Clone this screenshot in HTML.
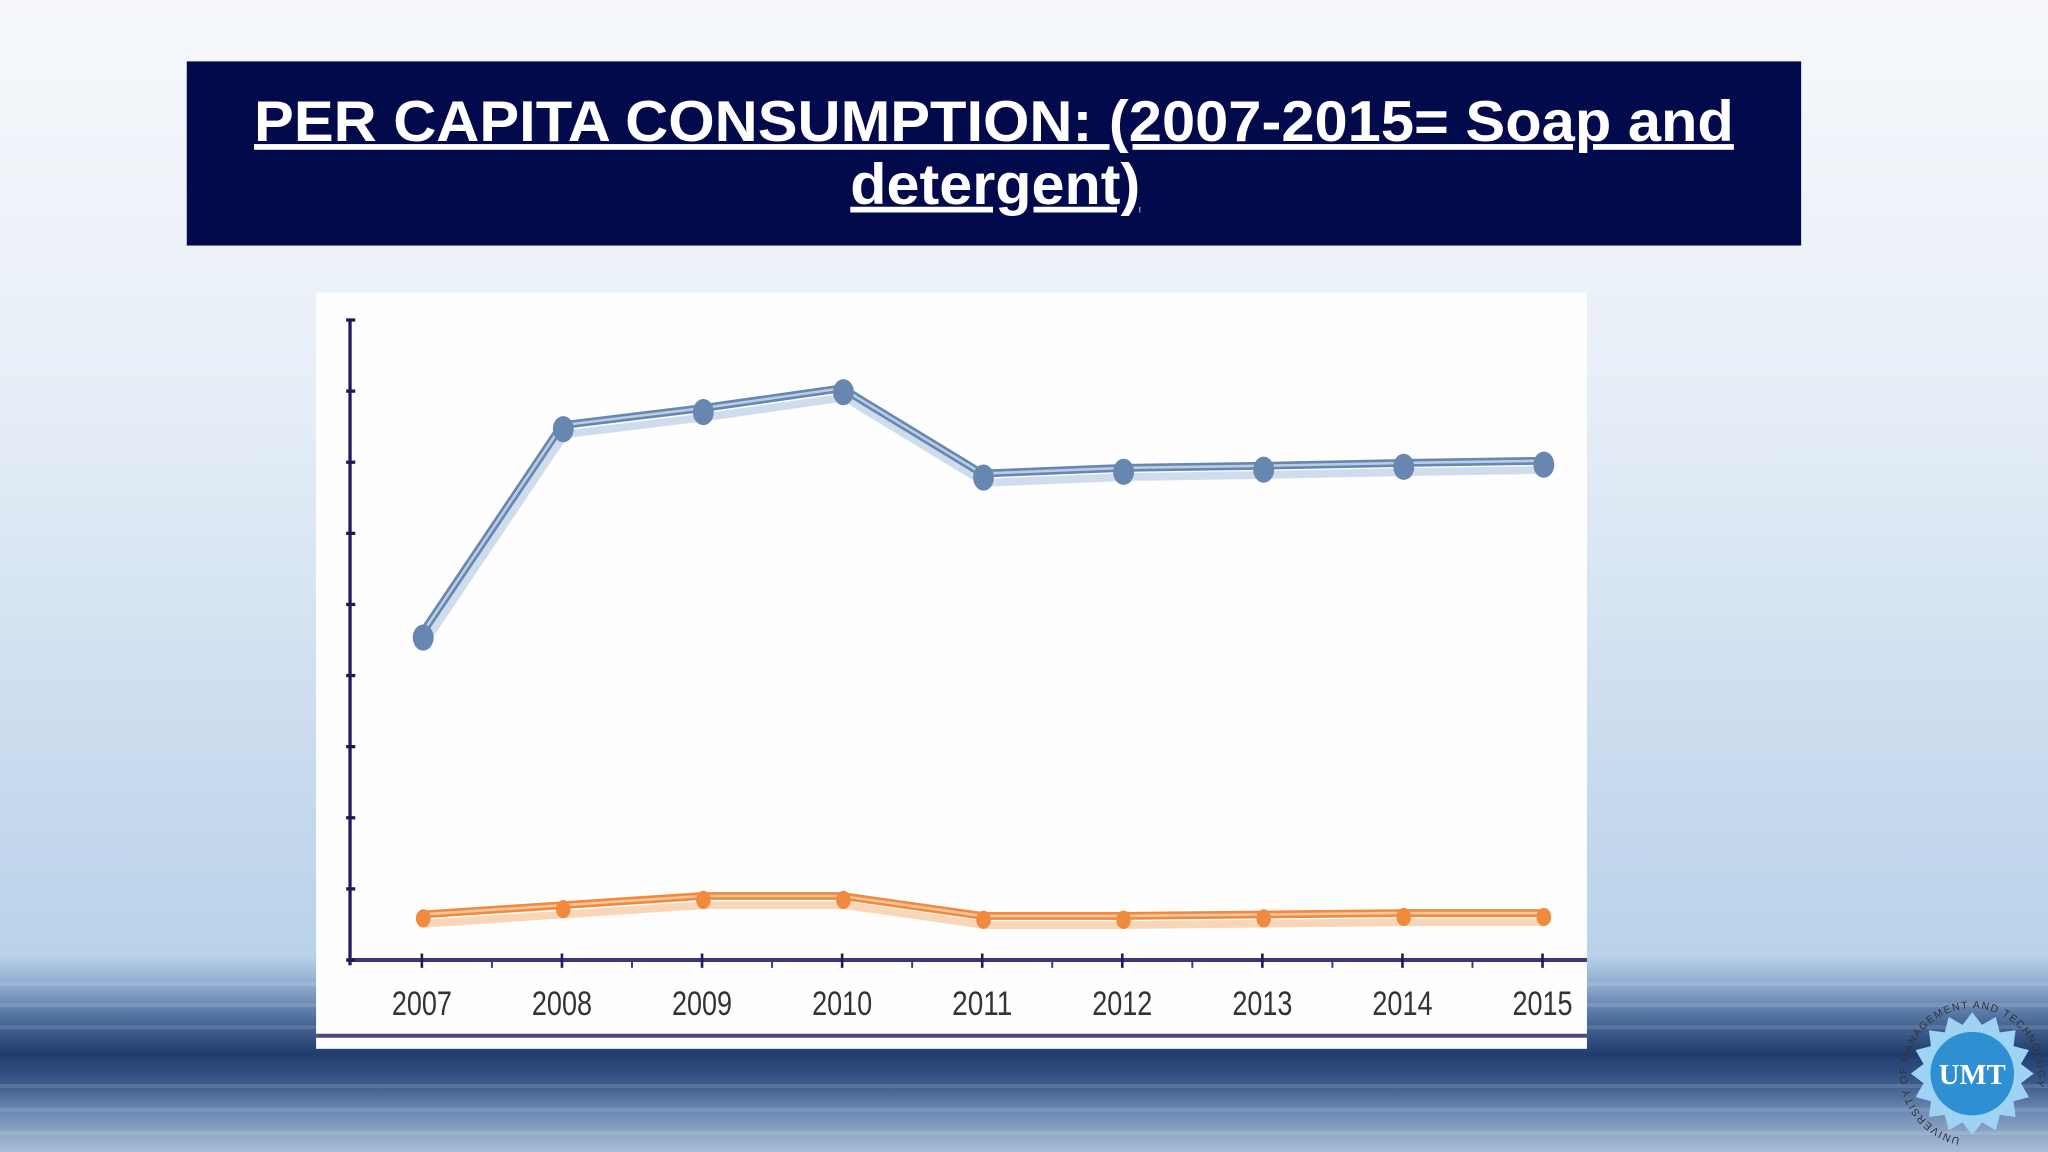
<!DOCTYPE html>
<html><head><meta charset="utf-8"><style>
html,body{margin:0;padding:0;width:2048px;height:1152px;overflow:hidden;background:#fff}
svg{display:block}
</style></head><body>
<svg width="2048" height="1152" viewBox="0 0 1568 882" preserveAspectRatio="none" xmlns="http://www.w3.org/2000/svg">
<defs>
<linearGradient id="bg" x1="0" y1="0" x2="0" y2="1">
<stop offset="0" stop-color="#f6f8fb"/>
<stop offset="0.35" stop-color="#e6eef7"/>
<stop offset="0.83" stop-color="#b9d1e9"/>
<stop offset="0.855" stop-color="#8fabcf"/>
<stop offset="0.885" stop-color="#4d6d9c"/>
<stop offset="0.915" stop-color="#1f3c6d"/>
<stop offset="0.94" stop-color="#3a5a8b"/>
<stop offset="0.965" stop-color="#6d8ab2"/>
<stop offset="1" stop-color="#a9bdd9"/>
</linearGradient>
<path id="ring" d="M1510,872 a50,50 0 1,1 0.1,0"/>
</defs>
<rect x="0" y="0" width="1568" height="882" fill="url(#bg)"/>
<g opacity="0.12">
<rect x="0" y="752" width="1568" height="3" fill="#fff"/>
<rect x="0" y="768" width="1568" height="3" fill="#fff"/>
<rect x="0" y="785" width="1568" height="3" fill="#fff"/>
<rect x="0" y="830" width="1568" height="3" fill="#fff"/>
<rect x="0" y="848" width="1568" height="3" fill="#fff"/>
<rect x="0" y="866" width="1568" height="3" fill="#fff"/>
</g>
<rect x="143" y="47" width="1236" height="141" fill="#030a4b"/>
<text x="761" y="108" text-anchor="middle" font-family="Liberation Sans, sans-serif" font-weight="bold" font-size="44" fill="#fff" text-decoration="underline" textLength="1133" lengthAdjust="spacingAndGlyphs">PER CAPITA CONSUMPTION: (2007-2015= Soap and</text>
<text x="762" y="156" text-anchor="middle" font-family="Liberation Sans, sans-serif" font-weight="bold" font-size="44" fill="#fff" text-decoration="underline" textLength="222" lengthAdjust="spacingAndGlyphs">detergent)</text>
<rect x="242" y="224" width="973" height="579" fill="#fefefe"/>
<line x1="242" y1="793" x2="1215" y2="793" stroke="#4a4880" stroke-width="3"/>
<g id="chart"></g>
<g>
<polygon id="star" fill="#9fd3f3"/>
<circle cx="1510" cy="822" r="32" fill="#2f8fd3"/>
<text x="1510" y="830" text-anchor="middle" font-family="Liberation Serif, serif" font-weight="bold" font-size="22" fill="#fff">UMT</text>
<text font-family="Liberation Sans, sans-serif" font-size="8" fill="#333" letter-spacing="1"><textPath href="#ring" startOffset="3%">UNIVERSITY OF MANAGEMENT AND TECHNOLOGY</textPath></text>
</g>
</svg>
<script>
const years = ['2007','2008','2009','2010','2011','2012','2013','2014','2015'];
const soapValues = [4.59, 7.52, 7.76, 8.04, 6.84, 6.92, 6.95, 6.99, 7.02];
const detergentValues = [0.64, 0.77, 0.90, 0.90, 0.62, 0.62, 0.64, 0.66, 0.66];
const yTicks = [0,1,2,3,4,5,6,7,8,9];

const NS='http://www.w3.org/2000/svg';
const g=document.getElementById('chart');
const X0=268, Y0=735, Y9=245, xFirst=323, xStep=107.25;
const xPos=i=>xFirst+i*xStep;
const yPos=v=>Y0-(v/9)*(Y0-Y9);
function mk(tag,attrs,parent){const e=document.createElementNS(NS,tag);for(const k in attrs)e.setAttribute(k,attrs[k]);(parent||g).appendChild(e);return e;}

const ya=mk('line',{x1:X0,y1:Y9,x2:X0,y2:Y0+4,stroke:'#1c1a5a','stroke-width':2.5});


const xa=mk('line',{x1:X0-2,y1:Y0,x2:1215,y2:Y0,stroke:'#3a3878','stroke-width':3});


yTicks.forEach(t=>{
  const tk=mk('line',{x1:X0-3,y1:yPos(t),x2:X0+4,y2:yPos(t),stroke:'#1c1a5a','stroke-width':2.5});
  
  
});
years.forEach((y,i)=>{
  const tk=mk('line',{x1:xPos(i),y1:Y0-5,x2:xPos(i),y2:Y0+6,stroke:'#1c1a5a','stroke-width':2});
  
  
  if(i<years.length-1){
    const mt=mk('line',{x1:xPos(i)+xStep/2,y1:Y0,x2:xPos(i)+xStep/2,y2:Y0+6,stroke:'#3a3878','stroke-width':1.5});
    
    
  }
  const lb=mk('text',{x:xPos(i),y:Y0+42,'text-anchor':'middle','font-family':'Liberation Sans Narrow, Liberation Sans, sans-serif','font-size':26,fill:'#333',textLength:46,lengthAdjust:'spacingAndGlyphs'});
  lb.textContent=y;
  
  
});
function series(vals,name,dark,light,r){
  const pts=vals.map((v,i)=>xPos(i)+','+yPos(v)).join(' ');
  const sh=vals.map((v,i)=>(xPos(i)+2)+','+(yPos(v)+7)).join(' ');
  const s=mk('polyline',{points:sh,fill:'none',stroke:light,'stroke-width':6,opacity:0.7,'stroke-linejoin':'round'});
  
  
  const l=mk('polyline',{points:pts,fill:'none',stroke:dark,'stroke-width':6,'stroke-linejoin':'round'});
  
  
  const l2=mk('polyline',{points:pts,fill:'none',stroke:light,'stroke-width':2,'stroke-linejoin':'round'});
  
  
  vals.forEach((v,i)=>{
    const c=mk('ellipse',{cx:xPos(i)+1,cy:yPos(v)+3,rx:r*0.8,ry:r,fill:dark});
    
    
  });
}
series(soapValues,'soap','#6786b0','#b9cde4',10);
series(detergentValues,'detergent','#ef8a3e','#f8c49a',7);

const st=document.getElementById('star');const p=[];
for(let i=0;i<32;i++){const a=i*Math.PI/16;const rr=i%2?38:47;p.push((1510+rr*Math.sin(a)).toFixed(1)+','+(822-rr*Math.cos(a)).toFixed(1));}
st.setAttribute('points',p.join(' '));
</script>
</body></html>
